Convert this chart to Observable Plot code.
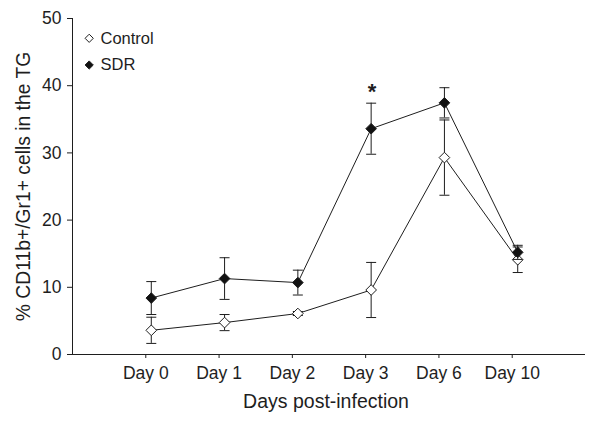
<!DOCTYPE html>
<html><head><meta charset="utf-8">
<script src="https://cdn.jsdelivr.net/npm/d3@7"></script>
<script src="https://cdn.jsdelivr.net/npm/@observablehq/plot@0.6"></script>
<style>body{margin:0;background:#fff;}</style>
</head><body><div id="chart"></div>
<script>
const days = ["Day 0", "Day 1", "Day 2", "Day 3", "Day 6", "Day 10"];
const series = ["Control", "SDR"];
const controlMean = [3.6, 4.75, 6.1, 9.6, 29.3, 14.1];
const controlErr = [1.95, 1.2, 0.3, 4.1, 5.6, 1.9];
const sdrMean = [8.4, 11.3, 10.7, 33.6, 37.45, 15.2];
const sdrErr = [2.45, 3.1, 1.85, 3.8, 2.25, 1.05];
const yTicks = [0, 10, 20, 30, 40, 50];
const annotations = [{day: "Day 3", series: "SDR", label: "*"}];
const xLabel = "Days post-infection";
const yLabel = "% CD11b+/Gr1+ cells in the TG";

const means = {Control: controlMean, SDR: sdrMean};
const errs = {Control: controlErr, SDR: sdrErr};
const fills = {Control: "white", SDR: "#111"};
const ink = "#1e1e1e";
const OFF = 5.5;

const rowsFor = s => days.map((d, i) => ({series: s, day: d, pos: i + 1, mean: means[s][i], err: errs[s][i]}));

const capSymbol = {draw(ctx) { ctx.moveTo(-5, 0); ctx.lineTo(5, 0); }};

const seriesMarks = series.flatMap(s => {
  const rows = rowsFor(s);
  return [
    Plot.ruleX(rows, {x: "pos", y1: d => d.mean - d.err, y2: d => d.mean + d.err, dx: OFF, stroke: ink, strokeWidth: 1}),
    Plot.dot(rows, {x: "pos", y: d => d.mean - d.err, dx: OFF, symbol: capSymbol, stroke: ink, strokeWidth: 1, fill: "none"}),
    Plot.dot(rows, {x: "pos", y: d => d.mean + d.err, dx: OFF, symbol: capSymbol, stroke: ink, strokeWidth: 1, fill: "none"}),
    Plot.line(rows, {x: "pos", y: "mean", dx: OFF, stroke: ink, strokeWidth: 1}),
    Plot.dot(rows, {x: "pos", y: "mean", dx: OFF, symbol: "diamond2", r: 4.8, fill: fills[s], stroke: ink, strokeWidth: 1})
  ];
});

const legendMarks = series.flatMap((s, i) => [
  Plot.dot([s], {frameAnchor: "top-left", dx: 16.7, dy: 19.8 + i * 26.7, symbol: "diamond2", r: 3.7, fill: fills[s], stroke: ink, strokeWidth: 1}),
  Plot.text([s], {frameAnchor: "top-left", dx: 28, dy: 19.8 + i * 26.7, text: d => d, textAnchor: "start", lineAnchor: "middle", fontSize: 16.5, fill: ink})
]);

const chart = Plot.plot({
  width: 600,
  height: 422,
  marginLeft: 72,
  marginRight: 15,
  marginTop: 18,
  marginBottom: 68,
  style: {fontFamily: "'Liberation Sans', Arial, sans-serif", background: "white", color: ink},
  x: {domain: [0, 7]},
  y: {domain: [0, 50]},
  marks: [
    Plot.ruleY([0], {stroke: ink}),
    Plot.ruleX([0], {stroke: ink}),
    Plot.axisY({ticks: yTicks, tickSize: 5, tickPadding: 6, fontSize: 17.5, label: null, stroke: ink}),
    Plot.axisX({ticks: days.map((d, i) => i + 1), tickFormat: i => days[i - 1], tickSize: 4, tickPadding: 8, fontSize: 17.5, label: null, stroke: ink}),
    Plot.text([yLabel], {frameAnchor: "left", rotate: -90, dx: -49, text: d => d, textAnchor: "middle", lineAnchor: "middle", fontSize: 19.3, fill: ink}),
    Plot.text([xLabel], {frameAnchor: "bottom", dy: 47, dx: -3, text: d => d, textAnchor: "middle", lineAnchor: "middle", fontSize: 19.5, fill: ink}),
    ...seriesMarks,
    Plot.text(annotations, {
      x: d => days.indexOf(d.day) + 1,
      y: d => { const i = days.indexOf(d.day); return means[d.series][i] + errs[d.series][i]; },
      text: "label", dx: OFF + 1, dy: -11, fontSize: 22, fontWeight: "bold", fill: ink
    }),
    ...legendMarks
  ]
});
document.getElementById("chart").appendChild(chart);
</script>
</body></html>
